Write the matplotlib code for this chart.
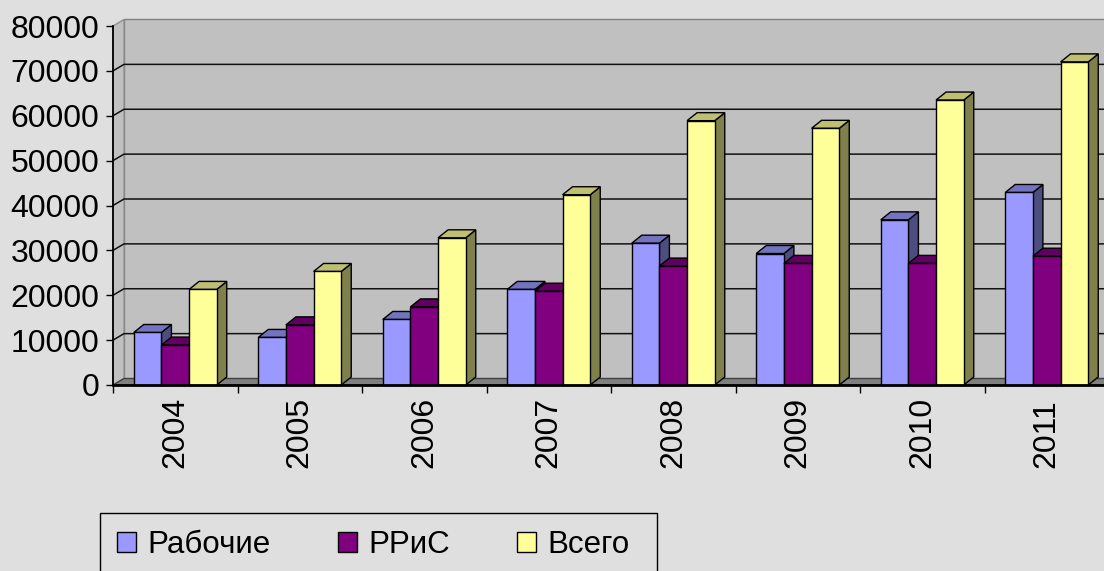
import matplotlib
matplotlib.use('Agg')
import matplotlib.pyplot as plt
from matplotlib.patches import Polygon, Patch, Rectangle
from matplotlib.lines import Line2D

plt.rcParams['font.family'] = ['Liberation Sans', 'DejaVu Sans']

# ---- data ----
years = ['2004', '2005', '2006', '2007', '2008', '2009', '2010', '2011']
workers = [11700, 10600, 14600, 21300, 31600, 29300, 36800, 42900]
rris = [8900, 13400, 17400, 20900, 26500, 27100, 27100, 28700]
total = [21300, 25300, 32800, 42400, 58900, 57200, 63500, 72000]
series_names = ['Рабочие', 'РРиС', 'Всего']
yticks = [0, 10000, 20000, 30000, 40000, 50000, 60000, 70000, 80000]

# ---- styles ----
front_cols = ['#9999FF', '#800080', '#FFFF99']
top_cols = ['#7373BF', '#600060', '#BFBF73']
side_cols = ['#4D4D80', '#400040', '#80804D']
BG = '#DFDFDF'
WALL = '#C0C0C0'
FLOOR = '#808080'

W_PX, H_PX = 1104, 571
fig = plt.figure(figsize=(W_PX / 100, H_PX / 100), dpi=100, facecolor=BG)
ax_l, ax_r, ax_t, ax_b = 113, 1109, 26, 385
ax = fig.add_axes([ax_l / W_PX, (H_PX - ax_b) / H_PX,
                   (ax_r - ax_l) / W_PX, (ax_b - ax_t) / H_PX])
n = len(years)
ymax = yticks[-1]
ax.set_xlim(0, n)
ax.set_ylim(0, ymax)
ax.patch.set_visible(False)

px_x = (ax_r - ax_l) / n
px_y = (ax_b - ax_t) / ymax
wall_dx, wall_dy = 11 / px_x, 6.5 / px_y
bar_dx, bar_dy = 10 / px_x, 8 / px_y

# back wall, side wall, floor
ax.add_patch(Polygon([(wall_dx, wall_dy), (n + wall_dx, wall_dy),
                      (n + wall_dx, ymax + wall_dy), (wall_dx, ymax + wall_dy)],
                     closed=True, fc=WALL, ec='#808080', lw=1, clip_on=False, zorder=0))
ax.add_patch(Polygon([(0, 0), (0, ymax), (wall_dx, ymax + wall_dy), (wall_dx, wall_dy)],
                     closed=True, fc=WALL, ec='#909090', lw=1, clip_on=False, zorder=0.5))
for yv in yticks[1:-1]:
    ax.add_line(Line2D([0, wall_dx, n + wall_dx], [yv, yv + wall_dy, yv + wall_dy],
                       color='#111111', lw=1.1, clip_on=False, zorder=1))
ax.add_patch(Polygon([(0, 0), (n, 0), (n + wall_dx, wall_dy), (wall_dx, wall_dy)],
                     closed=True, fc=FLOOR, ec='#404040', lw=1, clip_on=False, zorder=1.5))

# bars
bw = 1 / 4.5
series = [workers, rris, total]
for j, vals in enumerate(series):
    xs = [i + 0.5 + (j - 1) * bw for i in range(n)]
    z = 3 + j
    ax.bar(xs, vals, width=bw, color=front_cols[j], edgecolor='black', lw=1,
           zorder=z + 0.2, clip_on=False)
    for x, v in zip(xs, vals):
        x0, x1 = x - bw / 2, x + bw / 2
        ax.add_patch(Polygon([(x1, 0), (x1 + bar_dx, bar_dy), (x1 + bar_dx, v + bar_dy), (x1, v)],
                             closed=True, fc=side_cols[j], ec='black', lw=1,
                             zorder=z, clip_on=False))
        ax.add_patch(Polygon([(x0, v), (x1, v), (x1 + bar_dx, v + bar_dy), (x0 + bar_dx, v + bar_dy)],
                             closed=True, fc=top_cols[j], ec='black', lw=1,
                             zorder=z + 0.1, clip_on=False))

# axes
for s in ['top', 'right']:
    ax.spines[s].set_visible(False)
ax.spines['left'].set_color('black')
ax.spines['left'].set_linewidth(1.3)
ax.spines['bottom'].set_color('black')
ax.spines['bottom'].set_linewidth(2)
ax.spines['left'].set_zorder(10)
ax.spines['bottom'].set_zorder(10)

ax.set_yticks(yticks)
ax.set_yticklabels([str(v) for v in yticks])
ax.tick_params(axis='y', direction='out', length=5, width=1, color='black',
               pad=5, labelsize=23, labelcolor='black')
ax.set_xticks(range(n + 1))
ax.set_xticklabels([''] * (n + 1))
ax.tick_params(axis='x', which='major', direction='out', length=5.5, width=1, color='black')
ax.set_xticks([i + 0.5 for i in range(n)], minor=True)
ax.set_xticklabels(years, minor=True, rotation=90, fontsize=23,
                   rotation_mode='anchor', ha='left', va='center')
ax.tick_params(axis='x', which='minor', length=0, pad=(468 - ax_b) * 0.72)

# legend
handles = [Patch(fc=front_cols[j], ec='black', lw=1) for j in range(3)]
leg = fig.legend(handles, series_names, loc='upper left',
                 bbox_to_anchor=(100 / W_PX, 1 - 513 / H_PX), ncol=3,
                 fontsize=22.5, frameon=False, borderpad=0.55,
                 handlelength=0.6, handleheight=0.6, handletextpad=0.37,
                 columnspacing=2.15, borderaxespad=0)
fig.patches.append(Rectangle((100 / W_PX, -0.05), (657 - 100) / W_PX, 0.05 + (H_PX - 513) / H_PX,
                             transform=fig.transFigure, fc='none', ec='black', lw=1,
                             zorder=5))

fig.savefig('out.png', dpi=100, facecolor=BG)
